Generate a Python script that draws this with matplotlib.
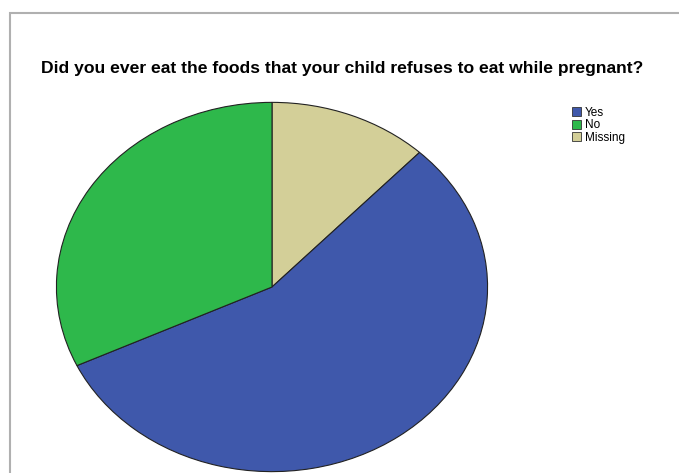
import matplotlib.pyplot as plt
from matplotlib.patches import Rectangle, Patch

plt.rcParams['font.family'] = ['Liberation Sans', 'DejaVu Sans']

# slices drawn clockwise from 12 o'clock
slice_labels = ["Missing", "Yes", "No"]
slice_values = [12, 56, 32]
slice_colors = ["#d3cf98", "#3f58ab", "#2eb84b"]

legend_labels = ["Yes", "No", "Missing"]

W, H = 679, 473
fig = plt.figure(figsize=(W / 100, H / 100), dpi=100)

# gray outer frame (only left and top visible)
fig.patches.append(Rectangle((9.5 / W, -0.1), 1.2, (H - 13.5) / H + 0.1,
                             transform=fig.transFigure, fill=False,
                             edgecolor="#b0b0b0", linewidth=1.5))

# pie area: center (272, 287), radii 216 x 185
cx, cy, rx, ry = 272, 287, 216, 185
ax = fig.add_axes([(cx - rx) / W, (H - cy - ry) / H, 2 * rx / W, 2 * ry / H])
ax.pie(slice_values, colors=slice_colors, startangle=90, counterclock=False,
       wedgeprops=dict(edgecolor="#222222", linewidth=0.8))
ax.set_aspect("auto")
ax.set_xlim(-1.002, 1.002)
ax.set_ylim(-1.002, 1.002)
ax.axis("off")

fig.text(342 / W, 1 - 68 / H,
         "Did you ever eat the foods that your child refuses to eat while pregnant?",
         ha="center", va="center", fontsize=12.6, fontweight="bold")

color_map = dict(zip(slice_labels, slice_colors))
handles = [Patch(facecolor=color_map[l], edgecolor="#333333", linewidth=0.6)
           for l in legend_labels]
fig.legend(handles, legend_labels, loc="upper left",
           bbox_to_anchor=(566 / W, 1 - 101 / H), frameon=False,
           fontsize=8.5, handlelength=0.8, handleheight=0.8,
           handletextpad=0.3, labelspacing=0.05, borderpad=0)

fig.savefig("out.png", dpi=100)
